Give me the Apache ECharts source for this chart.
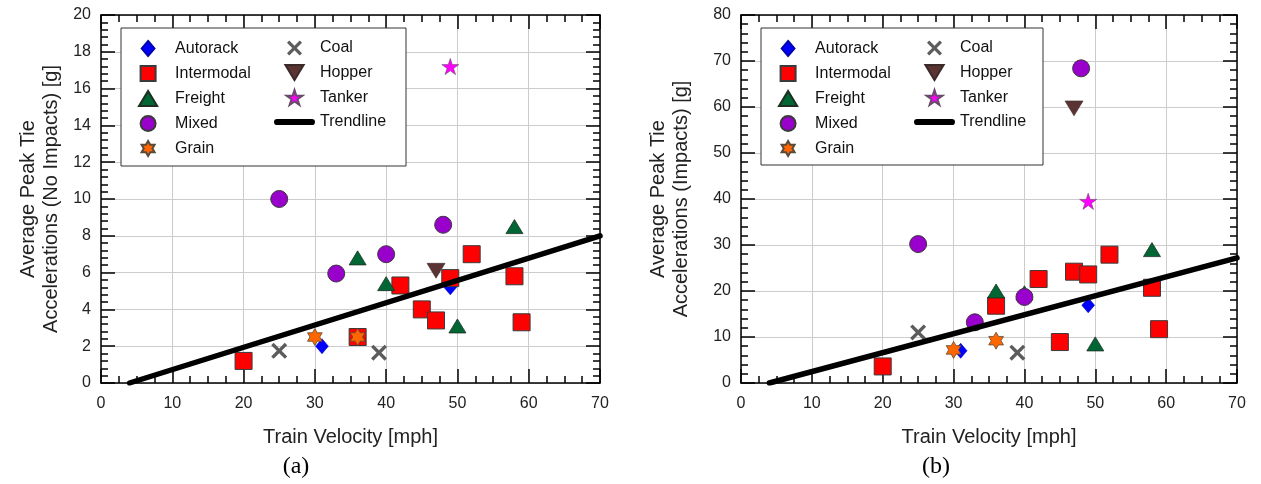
<!DOCTYPE html>
<html>
<head>
<meta charset="utf-8">
<script src="https://cdn.jsdelivr.net/npm/echarts@6/dist/echarts.min.js"></script>
<style>
  html, body { margin: 0; padding: 0; background: #fff; }
  #chart { width: 1261px; height: 484px; }
</style>
</head>
<body>
<div id="chart"></div>
<script>
// Average peak tie accelerations vs. train velocity, by car type
// (a) without impacts, (b) with impacts. Points are [velocity mph, acceleration g].

const velocityAxis = [0, 70, 10];      // min, max, interval
const accelAxisA = [0, 20, 2];
const accelAxisB = [0, 80, 10];

// (a) No impacts
const autorackA   = [[31, 2.0], [49, 5.2]];
const intermodalA = [[20, 1.2], [36, 2.5], [42, 5.3], [45, 4.0], [47, 3.4], [49, 5.7], [52, 7.0], [58, 5.8], [59, 3.3]];
const freightA    = [[36, 6.8], [40, 5.4], [50, 3.1], [58, 8.5]];
const mixedA      = [[25, 10.0], [33, 5.95], [40, 7.0], [48, 8.6]];
const grainA      = [[30, 2.5], [36, 2.5]];
const coalA       = [[25, 1.75], [39, 1.65]];
const hopperA     = [[47, 6.1]];
const tankerA     = [[49, 17.2]];
const trendA      = [[4, 0], [70, 8.0]];

// (b) Impacts
const autorackB   = [[31, 7.0], [49, 16.9]];
const intermodalB = [[20, 3.6], [36, 16.8], [42, 22.6], [45, 8.9], [47, 24.2], [49, 23.6], [52, 27.9], [58, 20.7], [59, 11.7]];
const freightB    = [[36, 20.0], [40, 19.6], [50, 8.5], [58, 29.0]];
const mixedB      = [[25, 30.2], [33, 13.2], [40, 18.7], [48, 68.4]];
const grainB      = [[30, 7.2], [36, 9.2]];
const coalB       = [[25, 11.0], [39, 6.6]];
const hopperB     = [[47, 59.7]];
const tankerB     = [[49, 39.5]];
const trendB      = [[4, 0], [70, 27.2]];

const legendCol1 = ['Autorack', 'Intermodal', 'Freight', 'Mixed', 'Grain'];
const legendCol2 = ['Coal', 'Hopper', 'Tanker', 'Trendline'];

const FONT = '"Liberation Sans", Arial, Helvetica, sans-serif';
const SERIF = '"Liberation Serif", "Times New Roman", serif';

// Marker outlines as paths so legend icons keep their proportions
const DIAMOND  = 'path://M0,-10L8.5,0L0,10L-8.5,0Z';
const SQUARE   = 'path://M-10,-10L10,-10L10,10L-10,10Z';
const TRI_UP   = 'path://M0,-8.5L10,8L-10,8Z';
const TRI_DOWN = 'path://M-10,-8L10,-8L0,8.5Z';
const HEXAGRAM = 'path://M0,-10L2.887,-5L8.66,-5L5.774,0L8.66,5L2.887,5L0,10L-2.887,5L-8.66,5L-5.774,0L-8.66,-5L-2.887,-5Z';
const STAR5    = 'path://M0,-10L2.245,-3.09L9.511,-3.09L3.633,1.18L5.878,8.09L0,3.82L-5.878,8.09L-3.633,1.18L-9.511,-3.09L-2.245,-3.09Z';
const CROSS    = 'path://M-10,-7L-7,-10L0,-3L7,-10L10,-7L3,0L10,7L7,10L0,3L-7,10L-10,7L-3,0Z';
const BAR      = 'path://M3,0L37,0A3,3 0 0 1 37,6L3,6A3,3 0 0 1 3,0Z';

const styles = {
  Autorack:   { symbol: DIAMOND,  symbolSize: 15, itemStyle: { color: '#0000FF', borderColor: '#0000B0', borderWidth: 0.6 } },
  Intermodal: { symbol: SQUARE,   symbolSize: 17, itemStyle: { color: '#FF0000', borderColor: '#3a3a3a', borderWidth: 1 } },
  Freight:    { symbol: TRI_UP,   symbolSize: 17, itemStyle: { color: '#006633', borderColor: '#1e2e24', borderWidth: 0.8 } },
  Mixed:      { symbol: 'circle', symbolSize: 17, itemStyle: { color: '#9900CC', borderColor: '#3a3a3a', borderWidth: 1 } },
  Grain:      { symbol: HEXAGRAM, symbolSize: 17, itemStyle: { color: '#FF6600', borderColor: '#5a4a3a', borderWidth: 0.8 } },
  Coal:       { symbol: CROSS,    symbolSize: 16, itemStyle: { color: '#5c5c5c' } },
  Hopper:     { symbol: TRI_DOWN, symbolSize: 18, itemStyle: { color: '#5C3333', borderColor: '#3a2a2a', borderWidth: 0.6 } },
  Tanker:     { symbol: STAR5,    symbolSize: 17, itemStyle: { color: '#FF00FF', borderColor: '#6a4a6a', borderWidth: 0.6 } }
};

function scatter(name, data, axisIdx) {
  const s = Object.assign({
    type: 'scatter', name, data,
    xAxisIndex: axisIdx, yAxisIndex: axisIdx,
    symbolKeepAspect: true,
    emphasis: { disabled: true },
    z: 2
  }, styles[name]);
  s.itemStyle = Object.assign({ opacity: 1 }, s.itemStyle);
  return s;
}

function trend(data, axisIdx) {
  return {
    type: 'line', name: 'Trendline', data,
    xAxisIndex: axisIdx, yAxisIndex: axisIdx,
    symbol: 'none', silent: true,
    lineStyle: { color: '#000', width: 5.5, cap: 'round' },
    itemStyle: { color: '#000' },
    z: 3
  };
}

function panelSeries(sets, axisIdx) {
  const names = ['Autorack', 'Intermodal', 'Freight', 'Mixed', 'Grain', 'Coal', 'Hopper', 'Tanker'];
  const list = names.map((n, i) => scatter(n, sets[i], axisIdx));
  list.push(trend(sets[8], axisIdx));
  return list;
}

function ticks(len) {
  return { show: true, inside: true, length: len, lineStyle: { color: '#000', width: 1.5 } };
}

function xAxes(gridIndex) {
  const base = () => ({
    gridIndex, type: 'value',
    min: velocityAxis[0], max: velocityAxis[1], interval: velocityAxis[2],
    axisLine: { show: true, onZero: false, lineStyle: { color: '#000', width: 1.5 } },
    axisTick: ticks(14),
    minorTick: Object.assign(ticks(7), { splitNumber: 4 })
  });
  return [
    Object.assign(base(), {
      position: 'bottom',
      name: 'Train Velocity [mph]', nameLocation: 'middle', nameGap: 44,
      nameTextStyle: { fontSize: 20, color: '#222', fontFamily: FONT },
      axisLabel: { fontSize: 16, color: '#222', margin: 13, fontFamily: FONT },
      splitLine: { show: true, lineStyle: { color: '#cccccc', width: 1 } }
    }),
    Object.assign(base(), {
      position: 'top',
      axisLabel: { show: false },
      splitLine: { show: false }
    })
  ];
}

function yAxes(gridIndex, range, name, nameGap) {
  const base = () => ({
    gridIndex, type: 'value',
    min: range[0], max: range[1], interval: range[2],
    axisLine: { show: true, onZero: false, lineStyle: { color: '#000', width: 1.5 } },
    axisTick: ticks(14),
    minorTick: Object.assign(ticks(7), { splitNumber: 5 })
  });
  return [
    Object.assign(base(), {
      position: 'left',
      name, nameLocation: 'middle', nameGap, nameRotate: 90,
      nameTextStyle: { fontSize: 20, color: '#222', fontFamily: FONT, lineHeight: 23 },
      axisLabel: { fontSize: 16, color: '#222', margin: 10, fontFamily: FONT },
      splitLine: { show: true, lineStyle: { color: '#cccccc', width: 1 } }
    }),
    Object.assign(base(), {
      position: 'right',
      axisLabel: { show: false },
      splitLine: { show: false }
    })
  ];
}

// Two-column legend; the left edge of each column is its widest visible icon
function legends(dx) {
  const common = {
    orient: 'vertical', top: 40, padding: 0,
    itemHeight: 15, itemGap: 8,
    selectedMode: false,
    symbolKeepAspect: true,
    textStyle: { fontSize: 16, color: '#111', fontFamily: FONT, lineHeight: 16 },
    z: 5
  };
  return [
    Object.assign({}, common, { left: 138 + dx, itemWidth: 44, data: legendCol1 }),
    Object.assign({}, common, {
      left: 274 + dx, itemWidth: 41,
      data: legendCol2.map(n => n === 'Trendline' ? { name: n, icon: BAR, itemStyle: { color: '#000' } } : n)
    })
  ];
}

const chart = echarts.init(document.getElementById('chart'), null, { renderer: 'canvas' });

chart.setOption({
  backgroundColor: '#fff',
  animation: false,
  grid: [
    { left: 101, top: 15, width: 499, height: 368 },
    { left: 741, top: 15, width: 496, height: 368 }
  ],
  xAxis: [...xAxes(0), ...xAxes(1)],
  yAxis: [
    ...yAxes(0, accelAxisA, 'Average Peak Tie\nAccelerations (No Impacts) [g]', 38),
    ...yAxes(1, accelAxisB, 'Average Peak Tie\nAccelerations (Impacts) [g]', 48)
  ],
  legend: [...legends(0), ...legends(640)],
  graphic: [
    { type: 'rect', z: 3, shape: { x: 121, y: 28, width: 285, height: 138 },
      style: { fill: '#fff', stroke: '#333', lineWidth: 1 } },
    { type: 'rect', z: 3, shape: { x: 761, y: 28, width: 282, height: 137 },
      style: { fill: '#fff', stroke: '#333', lineWidth: 1 } },
    { type: 'text', z: 5, x: 296, y: 467,
      style: { text: '(a)', font: '24px ' + SERIF, fill: '#000', textAlign: 'center', textVerticalAlign: 'middle' } },
    { type: 'text', z: 5, x: 936, y: 467,
      style: { text: '(b)', font: '24px ' + SERIF, fill: '#000', textAlign: 'center', textVerticalAlign: 'middle' } }
  ],
  series: [
    ...panelSeries([autorackA, intermodalA, freightA, mixedA, grainA, coalA, hopperA, tankerA, trendA], 0),
    ...panelSeries([autorackB, intermodalB, freightB, mixedB, grainB, coalB, hopperB, tankerB, trendB], 2)
  ]
});
</script>
</body>
</html>
